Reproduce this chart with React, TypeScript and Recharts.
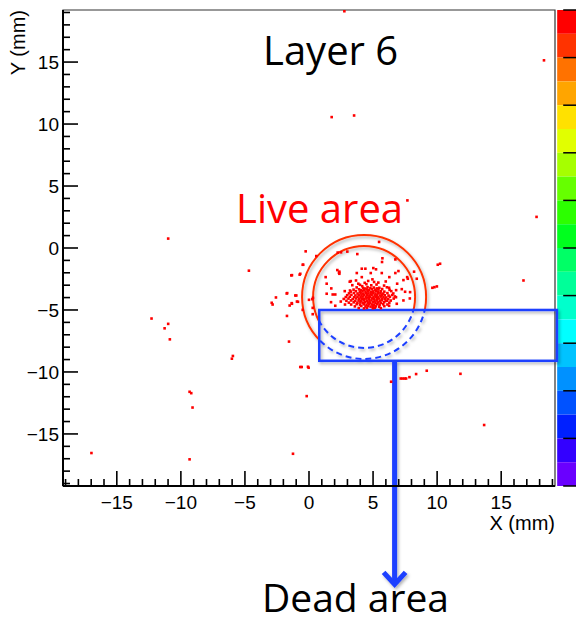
import React from 'react';
import { ScatterChart, Scatter, XAxis, YAxis, ReferenceArea, ReferenceLine } from 'recharts';

// Hits in the dense spot (mm)
const CORE_HITS: [number, number][] = [
  [4.62, -2.66], [5.08, -2.74], [4.35, -2.81], [5.41, -2.79],
  [3.98, -2.97], [4.48, -2.92], [4.86, -3.01], [5.27, -2.95], [5.86, -3.03], [4.15, -3.08],
  [3.72, -3.18], [4.22, -3.22], [4.57, -3.16], [4.79, -3.24], [5.06, -3.19], [5.49, -3.21], [6.08, -3.17], [4.38, -3.27], [5.3, -3.26],
  [3.48, -3.36], [3.91, -3.33], [4.27, -3.38], [4.51, -3.34], [4.69, -3.39], [4.93, -3.32], [5.18, -3.37], [5.42, -3.35], [5.71, -3.31], [6.29, -3.38], [4.04, -3.41],
  [3.27, -3.52], [3.66, -3.48], [3.97, -3.53], [4.18, -3.49], [4.41, -3.51], [4.62, -3.47], [4.83, -3.54], [5.02, -3.5], [5.24, -3.46], [5.39, -3.53], [5.61, -3.49], [5.88, -3.52], [6.42, -3.48],
  [3.12, -3.66], [3.51, -3.63], [3.79, -3.67], [4.03, -3.64], [4.22, -3.68], [4.44, -3.62], [4.63, -3.66], [4.81, -3.69], [5.01, -3.63], [5.19, -3.67], [5.41, -3.65], [5.58, -3.61], [5.79, -3.68], [6.12, -3.64], [6.58, -3.67],
  [2.98, -3.81], [3.31, -3.78], [3.62, -3.83], [3.88, -3.79], [4.09, -3.82], [4.31, -3.77], [4.52, -3.81], [4.71, -3.84], [4.89, -3.78], [5.12, -3.82], [5.29, -3.79], [5.52, -3.83], [5.69, -3.77], [5.91, -3.81], [6.21, -3.84], [6.49, -3.79],
  [2.87, -3.96], [3.19, -3.93], [3.52, -3.97], [3.79, -3.94], [4.02, -3.98], [4.19, -3.92], [4.42, -3.96], [4.61, -3.99], [4.78, -3.93], [5.03, -3.97], [5.21, -3.94], [5.38, -3.98], [5.62, -3.92], [5.81, -3.96], [6.03, -3.99], [6.31, -3.94], [6.79, -3.97],
  [2.71, -4.11], [3.08, -4.08], [3.41, -4.12], [3.68, -4.07], [3.92, -4.11], [4.12, -4.09], [4.29, -4.13], [4.48, -4.08], [4.69, -4.12], [4.91, -4.07], [5.09, -4.11], [5.31, -4.13], [5.49, -4.08], [5.72, -4.12], [5.93, -4.09], [6.18, -4.13], [6.61, -4.08],
  [2.92, -4.26], [3.28, -4.23], [3.61, -4.27], [3.87, -4.24], [4.08, -4.28], [4.28, -4.22], [4.51, -4.26], [4.72, -4.29], [4.88, -4.23], [5.11, -4.27], [5.28, -4.24], [5.52, -4.28], [5.68, -4.22], [5.98, -4.26], [6.38, -4.24],
  [3.11, -4.41], [3.49, -4.38], [3.78, -4.42], [4.01, -4.39], [4.21, -4.43], [4.39, -4.37], [4.61, -4.41], [4.79, -4.44], [5.02, -4.38], [5.19, -4.42], [5.41, -4.39], [5.62, -4.43], [5.87, -4.37], [6.27, -4.41],
  [3.29, -4.56], [3.72, -4.53], [3.98, -4.57], [4.27, -4.54], [4.49, -4.58], [4.68, -4.52], [4.91, -4.56], [5.09, -4.59], [5.32, -4.53], [5.51, -4.57], [5.79, -4.54], [6.12, -4.56],
  [3.58, -4.71], [4.08, -4.68], [4.41, -4.72], [4.62, -4.69], [4.81, -4.73], [5.02, -4.67], [5.22, -4.71], [5.48, -4.74], [5.88, -4.69],
  [3.88, -4.84], [4.29, -4.87], [4.52, -4.83], [4.98, -4.86], [5.14, -4.82], [5.61, -4.85],
];

// Hits spread around the beam spot
const HALO_HITS: [number, number][] = [
  [-2.91, -4.42], [-2.84, -4.56], [-2.58, -3.99], [-1.74, -3.67], [-1.07, -3.83], [-1.35, -4.45],
  [-1.51, -4.64], [-0.94, -4.32], [-1.38, -2.21], [-0.73, -2.15], [-0.45, -1.35], [-0.26, -0.27],
  [0.31, -4.02], [0.0, -4.18], [0.29, -5.34], [10.05, -1.35], [10.23, -1.27], [9.63, -3.21],
  [9.79, -3.16], [9.98, -3.1], [5.47, 0.49], [0.57, -0.65], [2.24, -0.37], [2.5, -0.35],
  [2.99, -0.29], [3.77, -0.49], [5.73, -0.83], [6.74, -0.92], [-0.49, -1.35], [-1.33, -2.19],
  [-0.68, -2.08], [2.37, -1.91], [2.37, -2.08], [1.3, -2.35], [3.73, -2.02], [4.12, -2.35],
  [4.82, -2.02], [5.23, -1.72], [5.68, -2.02], [4.95, -2.53], [5.99, -2.7], [6.27, -2.35],
  [6.74, -2.02], [7.37, -2.59], [7.66, -2.35], [8.2, -1.91], [8.41, -2.48], [1.38, -2.88],
  [1.74, -3.26], [1.38, -3.69], [2.05, -3.75], [3.18, -2.72], [3.38, -3.0], [3.85, -2.88],
  [2.79, -3.48], [6.88, -2.88], [7.24, -3.32], [7.5, -3.53], [7.87, -4.07], [7.37, -4.23],
  [6.7, -3.91], [6.85, -4.5], [6.07, -4.26], [6.25, -4.66], [1.72, -4.37], [2.05, -4.66],
  [2.48, -4.32], [2.81, -4.56], [0.26, -4.13], [-0.99, -3.83], [-1.7, -3.64], [-0.86, -4.34],
  [-1.33, -4.5], [-0.49, -4.99], [0.29, -4.83], [5.7, -1.13], [5.02, -1.62], [4.12, -1.67],
  [4.4, -1.67], [2.21, -1.78], [2.34, -1.99], [6.98, -1.86], [7.71, -2.48], [3.67, -2.62],
  [3.26, -2.67], [1.85, -3.75], [3.2, -3.43], [6.25, -3.21], [6.8, -3.4], [7.89, -3.56],
];

// Isolated hits across the layer
const STRAY_HITS: [number, number][] = [
  [-4.69, -1.83], [-12.29, -5.69], [-10.99, -6.12], [-11.27, -6.48], [-10.86, -7.37], [-5.94, -8.71],
  [-6.02, -8.93], [-9.32, -11.6], [-9.19, -11.71], [-9.09, -12.87], [-16.98, -16.54], [-9.32, -17.05],
  [-1.25, -16.6], [-0.18, -11.95], [-0.68, -9.6], [-0.57, -9.6], [-0.08, -9.58], [-0.03, -9.66],
  [-1.56, -7.55], [-1.72, -5.48], [-10.99, 0.76], [2.76, 19.1], [18.34, 15.14], [1.77, 10.56],
  [3.52, 10.69], [7.68, 3.84], [17.76, 2.51], [16.74, -2.62], [6.41, -10.79], [7.16, -10.53],
  [7.32, -10.53], [7.48, -10.53], [7.58, -10.53], [7.84, -10.42], [8.36, -10.17], [9.19, -9.9],
  [11.82, -10.15], [13.67, -14.28],
];

const AXIS_TICKS = [
  -19, -18, -17, -16, -15, -14, -13, -12, -11, -10, -9, -8, -7, -6, -5, -4, -3, -2, -1, 0,
  1, 2, 3, 4, 5, 6, 7, 8, 9, 10, 11, 12, 13, 14, 15, 16, 17, 18, 19,
];
const RANGE: [number, number] = [-19.2, 19.2];

// dead region of the sensor and the live-area rings (mm)
const DEAD_X: [number, number] = [0.8, 19.35];
const DEAD_Y: [number, number] = [-9.1, -5.0];
const RING_CENTER: [number, number] = [4.3, -3.95];
const RING_RADII = [4.84, 3.98];
const ARROW_X = 6.68;
const ARROW_END_Y = -27.3;

// colour palette on the right edge, top to bottom
const PALETTE = [
  '#ff0000', '#ff3300', '#ff7200', '#ffa500', '#ffe100', '#e1ff00', '#a6ff00', '#66ff00', '#2cff00', '#00ff1e',
  '#00ff66', '#00ff99', '#00ffcc', '#00ffff', '#00c3ff', '#0091ff', '#0052ff', '#0020ff', '#3300ff', '#6a00ff',
];
const PALETTE_X: [number, number] = [19.37, 21.8];
const PALETTE_TICK_X = 19.84;

const RED = '#ff0000';
const RING_RED = '#ff3300';
const BLUE = '#1f3fff';
const AXIS_FONT = '"Liberation Sans", Arial, Helvetica, sans-serif';
const NOTE_FONT = '"Open Sans", "Noto Sans", sans-serif';

const hits = [...STRAY_HITS, ...HALO_HITS, ...CORE_HITS].map(([x, y]) => ({ x, y }));

const fmt = (v: number) => (v < 0 ? '\u2212' + Math.abs(v) : String(v));

const XTick = (props: any) => {
  const { x, y, payload } = props;
  const major = payload.value % 5 === 0;
  return (
    <g>
      <line x1={x} x2={x} y1={y} y2={y - (major ? 15 : 7)} stroke="#000" strokeWidth={1.6} />
      {major && (
        <text x={x} y={y + 23} textAnchor="middle" fontSize={19} fontFamily={AXIS_FONT} fill="#000">
          {fmt(payload.value)}
        </text>
      )}
    </g>
  );
};

const YTick = (props: any) => {
  const { x, y, payload } = props;
  const major = payload.value % 5 === 0;
  return (
    <g>
      <line x1={x} x2={x + (major ? 15 : 7)} y1={y} y2={y} stroke="#000" strokeWidth={1.6} />
      {major && (
        <text x={x - 4} y={y} dy="0.35em" textAnchor="end" fontSize={19} fontFamily={AXIS_FONT} fill="#000">
          {fmt(payload.value)}
        </text>
      )}
    </g>
  );
};

const HitMark = (props: any) => (
  <rect x={props.cx - 1.3} y={props.cy - 1.3} width={2.6} height={2.6} fill={RED} />
);

// rectangle of the dead region; ring parts inside it are dashed blue
const DeadZone = (props: any) => {
  const { x, y, width, height } = props;
  const sx = width / (DEAD_X[1] - DEAD_X[0]);
  const sy = height / (DEAD_Y[1] - DEAD_Y[0]);
  const cx = x + (RING_CENTER[0] - DEAD_X[0]) * sx;
  const cy = y + (DEAD_Y[1] - RING_CENTER[1]) * sy;
  const outside = `M-50,-50H700V700H-50Z M${x},${y}h${width}v${height}h${-width}Z`;
  return (
    <g>
      <defs>
        <filter id="annShadow" x="-30%" y="-30%" width="160%" height="160%">
          <feDropShadow dx="1.5" dy="2" stdDeviation="1.8" floodColor="#000" floodOpacity="0.3" />
        </filter>
        <clipPath id="deadIn">
          <rect x={x} y={y} width={width} height={height} />
        </clipPath>
        <clipPath id="deadOut">
          <path d={outside} clipRule="evenodd" />
        </clipPath>
      </defs>
      <g filter="url(#annShadow)">
        <g clipPath="url(#deadOut)">
          {RING_RADII.map((r) => (
            <circle key={r} cx={cx} cy={cy} r={r * sx} fill="none" stroke={RING_RED} strokeWidth={2} />
          ))}
        </g>
        <g clipPath="url(#deadIn)">
          {RING_RADII.map((r) => (
            <circle key={r} cx={cx} cy={cy} r={r * sx} fill="none" stroke={BLUE} strokeWidth={2} strokeDasharray="6 4" />
          ))}
        </g>
        <rect x={x} y={y} width={width} height={height} fill="none" stroke={BLUE} strokeWidth={2.5} />
      </g>
    </g>
  );
};

const Arrow = (props: any) => {
  const { x1, y1, x2, y2 } = props;
  return (
    <g filter="url(#annShadow)">
      <line x1={x1} y1={y1} x2={x2} y2={y2 - 3} stroke={BLUE} strokeWidth={5} />
      <polyline
        points={`${x2 - 11},${y2 - 14} ${x2},${y2 - 2} ${x2 + 11},${y2 - 14}`}
        fill="none"
        stroke={BLUE}
        strokeWidth={5}
      />
    </g>
  );
};

const band = (RANGE[1] - RANGE[0]) / PALETTE.length;

export default function App() {
  return (
    <div style={{ position: 'absolute', left: 0, top: 0, width: 576, height: 623, background: '#fff' }}>
      <ScatterChart width={576} height={623} margin={{ top: 10, right: 21, bottom: 87, left: 0 }}>
        <XAxis
          type="number"
          dataKey="x"
          domain={RANGE}
          ticks={AXIS_TICKS}
          interval={0}
          allowDataOverflow
          height={50}
          tickSize={0}
          tickMargin={0}
          tick={XTick}
          axisLine={{ stroke: '#000', strokeWidth: 2 }}
        />
        <YAxis
          type="number"
          dataKey="y"
          domain={RANGE}
          ticks={AXIS_TICKS}
          interval={0}
          allowDataOverflow
          width={63}
          tickSize={0}
          tickMargin={0}
          tick={YTick}
          axisLine={{ stroke: '#000', strokeWidth: 2 }}
        />
        <ReferenceArea x1={RANGE[0]} x2={RANGE[1]} y1={RANGE[0]} y2={RANGE[1]} fill="none" stroke="#333" strokeWidth={1.2} />
        {PALETTE.map((c, i) => (
          <ReferenceArea
            key={c}
            x1={PALETTE_X[0]}
            x2={PALETTE_X[1]}
            y1={RANGE[1] - (i + 1) * band}
            y2={RANGE[1] - i * band}
            fill={c}
            fillOpacity={1}
            stroke="none"
            ifOverflow="visible"
          />
        ))}
        {PALETTE.filter((_, i) => i % 2 === 0).concat(['end']).map((c, k) => (
          <ReferenceLine
            key={'t' + k}
            segment={[
              { x: PALETTE_TICK_X, y: RANGE[1] - k * 2 * band },
              { x: PALETTE_X[1], y: RANGE[1] - k * 2 * band },
            ]}
            stroke="#000"
            strokeWidth={1.5}
            ifOverflow="visible"
          />
        ))}
        <Scatter data={hits} shape={HitMark} isAnimationActive={false} />
        <ReferenceArea
          x1={DEAD_X[0]}
          x2={DEAD_X[1]}
          y1={DEAD_Y[0]}
          y2={DEAD_Y[1]}
          ifOverflow="visible"
          shape={DeadZone}
        />
        <ReferenceLine
          segment={[
            { x: ARROW_X, y: DEAD_Y[0] },
            { x: ARROW_X, y: ARROW_END_Y },
          ]}
          ifOverflow="visible"
          shape={Arrow}
        />
      </ScatterChart>
      <svg width={576} height={623} style={{ position: 'absolute', left: 0, top: 0, pointerEvents: 'none' }}>
        <text x={555} y={530} textAnchor="end" fontSize={20} fontFamily={AXIS_FONT} fill="#000">
          X (mm)
        </text>
        <text transform="translate(25,10) rotate(-90)" textAnchor="end" fontSize={20} fontFamily={AXIS_FONT} fill="#000">
          Y (mm)
        </text>
        <text x={263} y={65} fontSize={40} fontFamily={NOTE_FONT} fill="#000">
          Layer 6
        </text>
        <text x={236} y={223} fontSize={40} fontFamily={NOTE_FONT} fill={RED}>
          Live area
        </text>
        <text x={262} y={612} fontSize={39} fontFamily={NOTE_FONT} fill="#000">
          Dead area
        </text>
      </svg>
    </div>
  );
}
